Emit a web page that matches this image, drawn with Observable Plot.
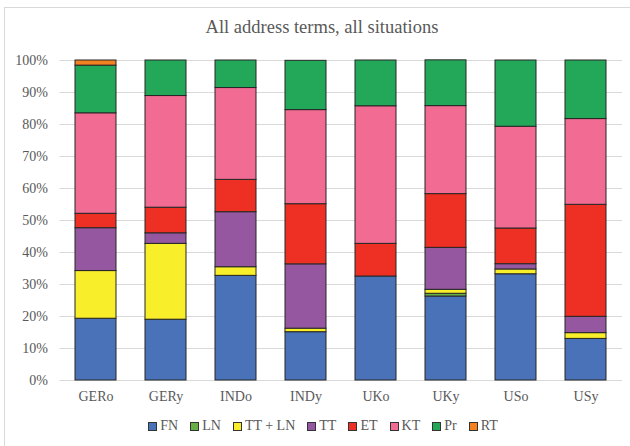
<!DOCTYPE html>
<html>
<head>
<meta charset="utf-8">
<script src="https://cdn.jsdelivr.net/npm/d3@7"></script>
<script src="https://cdn.jsdelivr.net/npm/@observablehq/plot@0.6"></script>
<style>
  html, body { margin: 0; padding: 0; background: #fff; }
  #wrap { position: relative; width: 630px; height: 446px; overflow: hidden; }
  #wrap, #wrap *, #wrap svg text { font-family: "Liberation Serif", "Times New Roman", serif !important; }
  #border { position: absolute; left: 4px; top: 7px; width: 640px; height: 460px; border: 1px solid #d9d9d9; box-sizing: border-box; }
  #title { position: absolute; left: 0; width: 644px; top: 17px; text-align: center; font-size: 18.5px; color: #595959; }
  #chart { position: absolute; left: 0; top: 45px; }
  #legend { position: absolute; left: 0; width: 646px; top: 418px; display: flex; justify-content: center; gap: 12px; font-size: 14px; color: #595959; }
  .item { display: flex; align-items: center; gap: 3px; }
  .sw { width: 7px; height: 7px; border: 1px solid #333; }
</style>
</head>
<body>
<div id="wrap">
  <div id="border"></div>
  <div id="title">All address terms, all situations</div>
  <div id="chart"></div>
  <div id="legend"></div>
</div>
<script>
const groups = ["GERo", "GERy", "INDo", "INDy", "UKo", "UKy", "USo", "USy"];
const terms = ["FN", "LN", "TT + LN", "TT", "ET", "KT", "Pr", "RT"];
const colors = ["#4a72b8", "#6aaf45", "#f8ee2a", "#9558a0", "#ee2f24", "#f16b92", "#23a85a", "#f58220"];

// percentages per term, one value per group (in order of groups)
const FN   = [19.3, 19.0, 32.7, 15.1, 32.5, 26.25, 33.2, 13.0];
const LN   = [0,    0,    0,    0,    0,    0.85,  0,    0];
const TTLN = [14.9, 23.7, 2.7,  1.1,  0,    1.25,  1.5,  1.8];
const TT   = [13.4, 3.3,  17.2, 20.1, 0,    13.1,  1.65, 5.1];
const ET   = [4.5,  8.0,  10.1, 18.8, 10.2, 16.8,  11.15, 35.0];
const KT   = [31.4, 34.9, 28.7, 29.4, 43.0, 27.5,  31.8, 26.8];
const Pr   = [14.9, 11.1, 8.6,  15.4, 14.3, 14.3,  20.7, 18.3];
const RT   = [1.6,  0,    0,    0,    0,    0,     0,    0];
const yTicks = [0, 10, 20, 30, 40, 50, 60, 70, 80, 90, 100];

const series = [FN, LN, TTLN, TT, ET, KT, Pr, RT];
const data = [];
terms.forEach((t, i) => {
  groups.forEach((g, j) => {
    data.push({group: g, term: t, value: series[i][j]});
  });
});

const chart = Plot.plot({
  width: 630,
  height: 365,
  marginLeft: 59.3,
  marginRight: 8.1,
  marginTop: 15,
  marginBottom: 30,
  style: {fontFamily: "Liberation Serif, serif", fontSize: "14px", color: "#595959", background: "transparent"},
  x: {domain: groups, paddingInner: 0.417, paddingOuter: 0.2085, label: null},
  y: {domain: [0, 100], label: null},
  color: {domain: terms, range: colors},
  marks: [
    Plot.ruleY(yTicks, {stroke: "#d9d9d9", strokeWidth: 1}),
    Plot.barY(data, Plot.stackY({
      x: "group",
      y: "value",
      fill: "term",
      order: terms,
      stroke: "#262626",
      strokeWidth: 1,
      inset: 0
    })),
    Plot.axisY({ticks: yTicks, tickFormat: d => d + "%", tickSize: 0, tickPadding: 12, fill: "#595959", fontSize: 14, fontFamily: "Liberation Serif"}),
    Plot.axisX({tickSize: 0, tickPadding: 11, fill: "#595959", fontSize: 14, fontFamily: "Liberation Serif"})
  ]
});
document.getElementById("chart").appendChild(chart);

const legend = document.getElementById("legend");
terms.forEach((t, i) => {
  const it = document.createElement("div");
  it.className = "item";
  const sw = document.createElement("div");
  sw.className = "sw";
  sw.style.background = colors[i];
  const lab = document.createElement("span");
  lab.textContent = t;
  it.appendChild(sw);
  it.appendChild(lab);
  legend.appendChild(it);
});
</script>
</body>
</html>
